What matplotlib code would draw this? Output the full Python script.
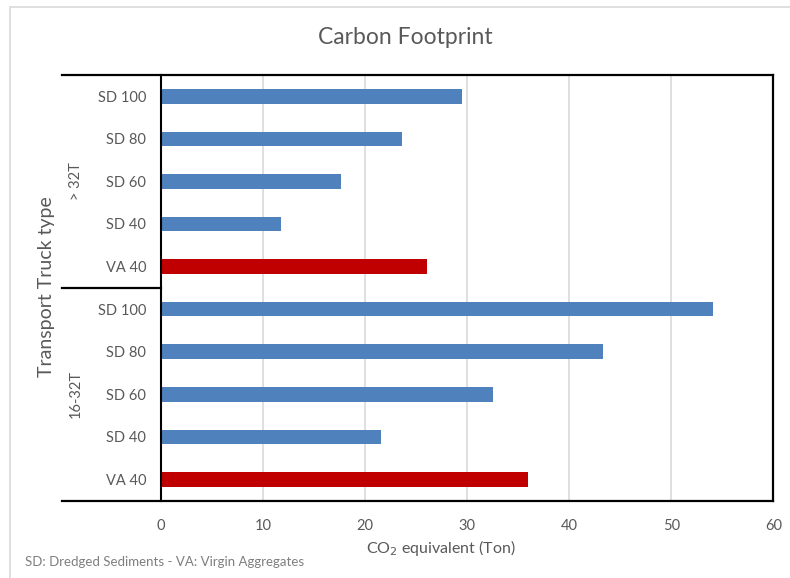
import matplotlib
matplotlib.use("Agg")
import matplotlib.pyplot as plt
from matplotlib.patches import Rectangle

plt.rcParams['font.family'] = ['Lato', 'DejaVu Sans']

# bar labels, top to bottom
labels = ['SD 100', 'SD 80', 'SD 60', 'SD 40', 'VA 40',
          'SD 100', 'SD 80', 'SD 60', 'SD 40', 'VA 40']
groups = ['> 32T', '16-32T']
# CO2 equivalent (Ton)
values = [29.5, 23.6, 17.7, 11.8, 26.1,
          54.1, 43.3, 32.5, 21.6, 36.0]
colors = ['#4f81bd'] * 4 + ['#c00000'] + ['#4f81bd'] * 4 + ['#c00000']
xticks = [0, 10, 20, 30, 40, 50, 60]

W, H = 790, 578
fig = plt.figure(figsize=(W / 100, H / 100), dpi=100)

# chart area border (only left and top edges visible)
fig.add_artist(Rectangle((10 / W, -0.1), 1.2, 1.1 - 7 / H, transform=fig.transFigure,
                         fill=False, edgecolor='#d9d9d9', lw=1.2))

left, right, top, bottom = 160.7, 773.3, 75, 500.7
ax = fig.add_axes([left / W, 1 - bottom / H, (right - left) / W, (bottom - top) / H])

n = len(values)
ypos = [n - 1 - i for i in range(n)]
ax.barh(ypos, values, height=0.34, color=colors, zorder=3)

ax.set_xlim(0, 60)
ax.set_ylim(-0.5, n - 0.5)
ax.set_xticks(xticks)
ax.set_yticks(ypos)
ax.set_yticklabels(labels)
ax.tick_params(axis='both', length=0, colors='#595959', labelsize=10.5)
ax.tick_params(axis='y', pad=10.5)
ax.tick_params(axis='x', pad=13)
ax.grid(axis='x', color='#d9d9d9', lw=1.2, zorder=0)

for s in ['top', 'bottom', 'left']:
    ax.spines[s].set_visible(False)
ax.spines['right'].set_linewidth(1.6)
ax.spines['right'].set_color('black')

# vertical category axis line
ax.plot([0, 0], [0, 1], transform=ax.transAxes, color='black', lw=1.5,
        clip_on=False, zorder=4)

# frame lines reaching out into the label area
ext = (62 - left) / (right - left)
ax.plot([ext, 1], [1, 1], transform=ax.transAxes, color='black', lw=1.6, clip_on=False)
ax.plot([ext, 1], [0, 0], transform=ax.transAxes, color='black', lw=1.6, clip_on=False)
ax.plot([ext, 0], [0.5, 0.5], transform=ax.transAxes, color='black', lw=1.6, clip_on=False)

# group labels
gx = (76 - left) / (right - left)
ax.text(gx, 0.75, groups[0], transform=ax.transAxes, rotation=90,
        ha='center', va='center', color='#595959', fontsize=10.5)
ax.text(gx, 0.25, groups[1], transform=ax.transAxes, rotation=90,
        ha='center', va='center', color='#595959', fontsize=10.5)

fig.text(47 / W, 1 - 287 / H, 'Transport Truck type', rotation=90,
         ha='center', va='center', color='#595959', fontsize=14)
fig.text(441 / W, 1 - 548 / H, 'CO$_2$ equivalent (Ton)',
         ha='center', va='center', color='#595959', fontsize=11.5)
fig.text(405 / W, 1 - 38 / H, 'Carbon Footprint',
         ha='center', va='center', color='#595959', fontsize=16.5)
fig.text(25 / W, 1 - 562 / H, 'SD: Dredged Sediments - VA: Virgin Aggregates',
         ha='left', va='center', color='#7f7f7f', fontsize=9.5)

fig.savefig('out.png', dpi=100)
